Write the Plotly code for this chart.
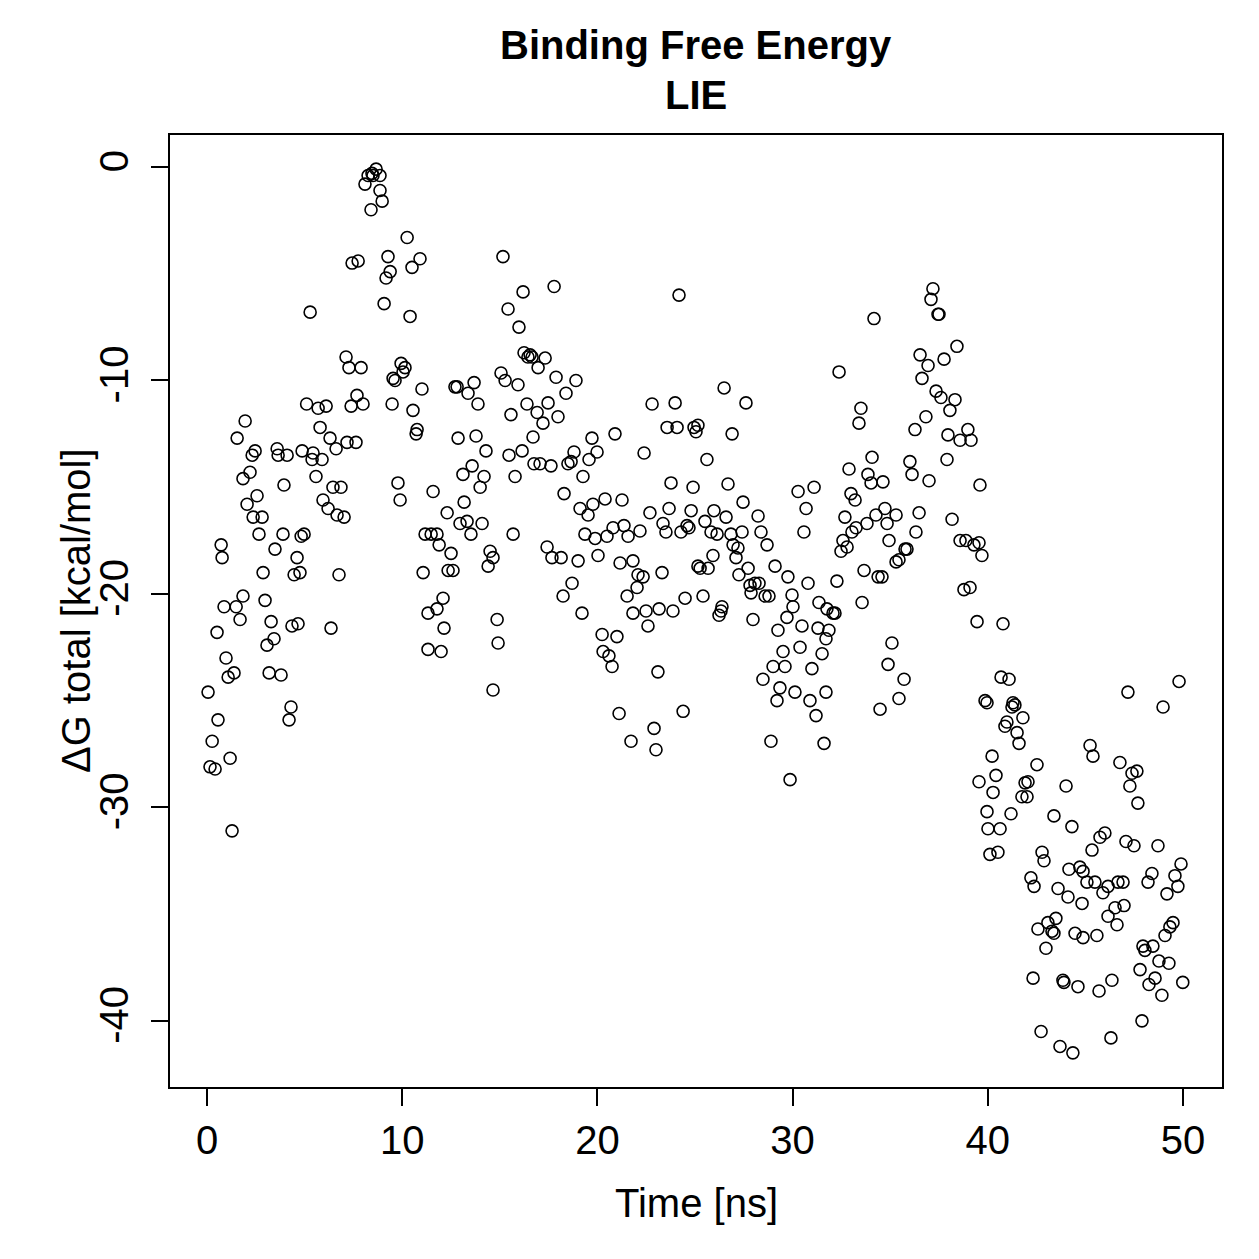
import plotly.graph_objects as go

# Time [ns] and Delta G total [kcal/mol], grouped by 5-ns blocks
t_a = [0.05,0.15,0.26,0.41,0.51,0.56,0.72,0.77,0.87,0.97,1.08,1.18,1.28,1.38,1.49,1.54,1.69,1.84,1.84,1.95,2.05,2.20,2.31,2.36,2.46,2.56,2.66,2.82,2.87,2.97,3.07,3.18,3.28,3.43,3.48,3.59,3.64,3.79,3.89,3.94,4.10,4.20,4.30,4.35,4.46,4.61,4.66,4.76,4.82,4.87,4.97]
g_a = [-24.6,-28.1,-26.9,-28.2,-21.8,-25.9,-17.7,-18.3,-20.6,-23.0,-23.9,-27.7,-31.1,-23.7,-20.6,-12.7,-21.2,-14.6,-20.1,-11.9,-15.8,-14.3,-13.5,-16.4,-13.3,-15.4,-17.2,-16.4,-19.0,-20.3,-22.4,-23.7,-21.3,-22.1,-17.9,-13.2,-13.5,-23.8,-17.2,-14.9,-13.5,-25.9,-25.3,-21.5,-19.1,-18.3,-21.4,-19.0,-17.3,-13.3,-17.2]

t_b = [5.10,5.28,5.43,5.38,5.58,5.69,5.79,5.89,5.94,6.10,6.20,6.30,6.35,6.45,6.61,6.66,6.76,6.86,7.02,7.12,7.17,7.27,7.38,7.43,7.63,7.68,7.74,7.89,7.99,8.09,8.25,8.40,8.45,8.50,8.66,8.86,8.86,8.97,9.07,9.17,9.27,9.38,9.48,9.53,9.63,9.78,9.89,9.94,10.04]
g_b = [-11.1,-6.8,-13.4,-13.7,-14.5,-11.3,-12.2,-13.7,-15.6,-11.2,-16.0,-12.7,-21.6,-15.0,-13.2,-16.3,-19.1,-15.0,-16.4,-8.9,-12.9,-9.4,-11.2,-4.5,-12.9,-10.7,-4.4,-9.4,-11.1,-0.8,-0.4,-2.0,-0.3,-0.4,-0.1,-0.4,-1.1,-1.6,-6.4,-5.2,-4.2,-4.9,-11.1,-9.9,-10.0,-14.8,-15.6,-9.2,-9.6]

t_c = [10.14,10.25,10.40,10.50,10.55,10.71,10.76,10.91,11.01,11.07,11.17,11.32,11.32,11.48,11.58,11.78,11.78,11.89,11.99,12.09,12.14,12.30,12.35,12.50,12.60,12.70,12.81,12.86,12.96,13.11,13.17,13.32,13.37,13.52,13.58,13.68,13.78,13.88,13.99,14.09,14.19,14.29,14.40,14.50,14.65,14.86,14.91,14.65]
g_c = [-9.4,-3.3,-7.0,-4.7,-11.4,-12.5,-12.3,-4.3,-10.4,-19.0,-17.2,-20.9,-22.6,-17.2,-15.2,-17.2,-20.7,-17.7,-22.7,-20.2,-21.6,-16.2,-18.9,-18.1,-18.9,-10.3,-10.3,-12.7,-16.7,-14.4,-15.7,-16.6,-10.6,-17.2,-14.0,-10.1,-12.6,-11.1,-15.0,-16.7,-14.5,-13.3,-18.7,-18.0,-18.3,-21.2,-22.3,-24.5]

t_d = [15.06,15.16,15.27,15.42,15.47,15.57,15.68,15.78,15.93,15.98,16.14,16.19,16.24,16.39,16.44,16.55,16.65,16.70,16.75,16.91,16.96,17.06,17.21,17.32,17.42,17.47,17.62,17.67,17.78,17.88,17.98,18.14,18.24,18.29,18.39,18.49,18.65,18.70,18.80,18.90,19.01,19.11,19.21,19.26,19.36,19.52,19.57,19.72,19.77,19.88,19.98,20.03]
g_d = [-9.65,-4.2,-10.0,-6.65,-13.5,-11.6,-17.2,-14.5,-10.2,-7.5,-13.3,-5.85,-8.7,-11.1,-8.9,-8.8,-8.9,-12.65,-13.9,-11.5,-9.4,-13.9,-12.0,-8.95,-17.8,-11.05,-14.0,-18.3,-5.6,-9.85,-11.7,-18.3,-20.1,-15.3,-10.6,-13.9,-13.8,-19.5,-13.35,-10.0,-18.45,-16.0,-20.9,-14.5,-17.2,-16.3,-13.7,-12.7,-15.8,-17.4,-13.35,-18.2]

t_e = [20.24,20.29,20.39,20.49,20.59,20.75,20.80,20.90,21.00,21.11,21.16,21.26,21.36,21.52,21.57,21.72,21.82,21.82,22.03,22.08,22.18,22.34,22.39,22.49,22.59,22.69,22.80,22.90,23.00,23.10,23.16,23.31,23.36,23.51,23.57,23.67,23.77,23.87,23.98,24.08,24.18,24.28,24.39,24.49,24.59,24.69,24.80,24.90,24.95,25.05]
g_e = [-21.9,-22.7,-15.55,-17.3,-22.9,-23.4,-16.9,-12.5,-22.0,-25.6,-18.55,-15.6,-16.8,-20.1,-17.3,-26.9,-18.45,-20.9,-19.7,-19.1,-17.05,-19.2,-13.4,-20.8,-21.5,-16.2,-11.1,-26.3,-27.3,-23.65,-20.7,-19.0,-16.7,-17.1,-12.2,-16.0,-14.8,-20.8,-11.05,-12.2,-6.0,-17.1,-25.5,-20.2,-16.8,-16.9,-16.1,-15.0,-12.2,-12.4]

t_f = [25.15,25.15,25.26,25.41,25.51,25.61,25.67,25.82,25.92,25.97,26.13,26.23,26.33,26.38,26.49,26.59,26.69,26.84,26.90,26.95,27.10,27.20,27.25,27.41,27.46,27.61,27.72,27.82,27.87,27.97,28.07,28.23,28.28,28.38,28.48,28.59,28.69,28.79,28.89,29.00,29.10,29.20,29.25,29.35,29.51,29.61,29.71,29.76,29.87,29.97,30.02]
g_f = [-18.7,-12.1,-18.8,-20.1,-16.6,-13.7,-18.8,-17.1,-18.2,-16.1,-17.2,-21.0,-20.8,-20.6,-10.35,-16.4,-14.85,-17.2,-12.5,-17.7,-18.3,-17.85,-19.1,-17.1,-15.7,-11.05,-18.8,-19.6,-19.95,-21.2,-19.5,-16.35,-19.5,-17.1,-24.0,-20.1,-17.7,-20.1,-26.9,-23.4,-18.7,-25.0,-21.7,-24.4,-22.7,-23.4,-21.1,-19.2,-28.7,-20.05,-20.6]

t_g = [30.12,30.28,30.38,30.48,30.58,30.69,30.79,30.89,30.99,31.10,31.20,31.30,31.35,31.51,31.61,31.71,31.71,31.76,31.86,32.07,32.17,32.27,32.38,32.48,32.58,32.68,32.79,32.89,32.99,33.04,33.20,33.25,33.40,33.50,33.56,33.66,33.81,33.86,34.02,34.07,34.17,34.27,34.38,34.48,34.58,34.63,34.73,34.84,34.89,34.94]
g_g = [-24.6,-15.2,-22.5,-21.5,-17.1,-16.0,-19.5,-25.0,-23.5,-15.0,-25.7,-21.6,-20.4,-22.8,-27.0,-22.1,-24.6,-20.7,-21.7,-20.9,-20.9,-19.4,-9.6,-18.0,-17.5,-16.4,-17.8,-14.15,-15.3,-17.1,-15.6,-16.9,-12.0,-11.3,-20.4,-18.9,-16.7,-14.4,-14.8,-13.6,-7.1,-16.3,-19.2,-25.4,-19.2,-14.75,-16.0,-16.7,-23.3,-17.5]

t_h = [35.09,35.30,35.30,35.45,35.45,35.71,35.76,35.86,36.01,36.12,36.27,36.32,36.48,36.53,36.63,36.83,36.94,36.99,37.09,37.19,37.35,37.45,37.50,37.60,37.76,37.91,37.96,38.06,38.17,38.32,38.42,38.58,38.58,38.78,38.88,38.98,39.09,39.14,39.29,39.45,39.55,39.55,39.60,39.70,39.86,39.96,39.96]
g_h = [-22.3,-16.3,-18.5,-18.4,-24.9,-24.0,-17.9,-17.9,-13.8,-14.4,-12.3,-17.1,-16.2,-8.8,-9.9,-11.7,-9.3,-14.7,-6.2,-5.7,-10.5,-6.9,-6.9,-10.8,-9.0,-13.7,-12.55,-11.4,-16.5,-10.9,-8.4,-12.8,-17.5,-19.8,-17.5,-12.3,-19.7,-12.8,-17.7,-21.3,-17.6,-28.8,-14.9,-18.2,-25.0,-25.1,-30.2]

t_i = [40.01,40.11,40.22,40.27,40.42,40.52,40.63,40.68,40.78,40.88,40.98,41.09,41.19,41.24,41.29,41.39,41.50,41.60,41.75,41.80,41.91,42.01,42.06,42.21,42.32,42.37,42.52,42.57,42.73,42.78,42.88,42.98,43.08,43.29,43.39,43.39,43.49,43.60,43.70,43.85,43.90,44.01,44.11,44.16,44.31,44.36,44.47,44.62,44.72,44.83,44.88,44.88,45.08]
g_i = [-31.0,-32.2,-27.6,-29.3,-28.5,-32.1,-31.0,-23.9,-21.4,-26.2,-26.0,-24.0,-30.3,-25.3,-25.1,-25.2,-26.5,-27.0,-29.5,-25.8,-28.85,-29.5,-28.8,-33.3,-38.0,-33.7,-28.0,-35.7,-40.5,-32.1,-32.5,-36.6,-35.4,-35.8,-30.4,-35.9,-35.2,-33.8,-41.2,-38.1,-38.2,-29.0,-34.2,-32.9,-30.9,-41.5,-35.9,-38.4,-32.8,-34.5,-33.0,-36.1,-33.5]

t_j = [45.24,45.39,45.34,45.49,45.59,45.70,45.75,45.90,46.00,46.16,46.16,46.31,46.36,46.52,46.62,46.67,46.77,46.93,46.98,47.08,47.18,47.28,47.39,47.49,47.64,47.69,47.80,47.90,47.95,48.05,48.21,48.26,48.41,48.46,48.57,48.72,48.77,48.92,48.98,49.08,49.18,49.28,49.33,49.49,49.59,49.74,49.80,49.90,49.99]
g_j = [-27.1,-27.6,-32.0,-33.5,-36.0,-38.6,-31.4,-34.0,-31.2,-33.7,-35.1,-40.8,-38.1,-34.7,-35.5,-33.5,-27.9,-33.5,-34.6,-31.6,-24.6,-29.0,-28.4,-31.8,-28.3,-29.8,-37.6,-40.0,-36.5,-36.7,-33.5,-38.3,-33.1,-36.5,-38.0,-31.8,-37.2,-38.8,-25.3,-36.0,-34.05,-37.3,-35.6,-35.4,-33.2,-33.7,-24.1,-32.65,-38.2]

x_ticks = [0, 10, 20, 30, 40, 50]
y_ticks = [0, -10, -20, -30, -40]
y_tick_text = ["0", "-10", "-20", "-30", "-40"]

time_ns = t_a + t_b + t_c + t_d + t_e + t_f + t_g + t_h + t_i + t_j
dg = g_a + g_b + g_c + g_d + g_e + g_f + g_g + g_h + g_i + g_j

FONT = "Liberation Sans, Arial, Helvetica, sans-serif"

fig = go.Figure()
fig.add_trace(go.Scatter(
    x=time_ns, y=dg, mode="markers",
    marker=dict(symbol="circle-open", size=12, color="black", line=dict(width=1.6, color="black")),
    showlegend=False, hoverinfo="x+y",
))

fig.update_layout(
    width=1259, height=1259,
    margin=dict(l=170, r=37, t=135, b=172),
    paper_bgcolor="white", plot_bgcolor="white",
    font=dict(family=FONT, color="black", size=40),
    xaxis=dict(
        range=[-1.9, 52.0], tickvals=x_ticks, ticktext=[str(v) for v in x_ticks],
        showgrid=False, zeroline=False, showline=True, mirror=True,
        linecolor="black", linewidth=2,
        ticks="outside", ticklen=17, tickwidth=2, tickcolor="black",
        tickfont=dict(size=40, family=FONT), ticklabelstandoff=0,
    ),
    yaxis=dict(
        range=[-43.1, 1.5], tickvals=y_ticks, ticktext=y_tick_text,
        showgrid=False, zeroline=False, showline=True, mirror=True,
        linecolor="black", linewidth=2,
        ticks="outside", ticklen=17, tickwidth=2, tickcolor="black",
        tickangle=-90, tickfont=dict(size=40, family=FONT), ticklabelstandoff=7,
    ),
    annotations=[
        dict(text="<b>Binding Free Energy</b>", xref="paper", yref="paper",
             x=0.5, y=(1087 - 45) / 952, xanchor="center", yanchor="middle",
             showarrow=False, font=dict(size=40, family=FONT)),
        dict(text="<b>LIE</b>", xref="paper", yref="paper",
             x=0.5, y=(1087 - 95) / 952, xanchor="center", yanchor="middle",
             showarrow=False, font=dict(size=40, family=FONT)),
        dict(text="Time [ns]", xref="paper", yref="paper",
             x=0.5, y=(1087 - 1203) / 952, xanchor="center", yanchor="middle",
             showarrow=False, font=dict(size=40, family=FONT)),
        dict(text="\u0394G total [kcal/mol]", xref="paper", yref="paper",
             x=(76 - 170) / 1052, y=0.5, xanchor="center", yanchor="middle",
             textangle=-90, showarrow=False, font=dict(size=40, family=FONT)),
    ],
)

fig.write_html("out.html")
